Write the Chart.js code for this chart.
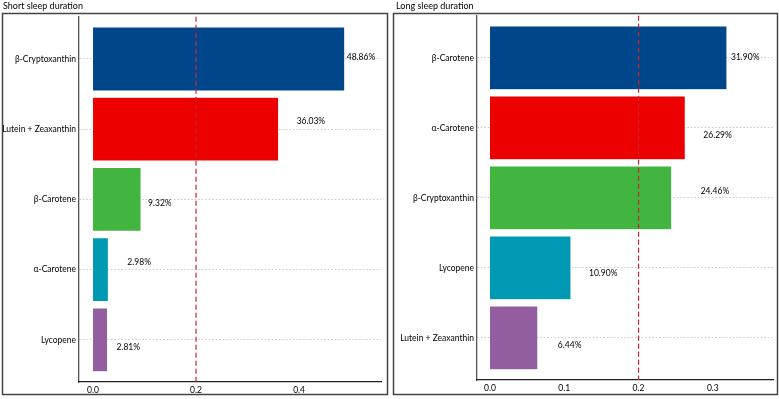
<!DOCTYPE html>
<html>
<head>
<meta charset="utf-8">
<script src="https://cdn.jsdelivr.net/npm/chart.js@4.4.1/dist/chart.umd.min.js"></script>
<style>
    body { margin: 0; background: #fff; }
    canvas { position: absolute; top: 0; }
</style>
</head>
<body>
<canvas id="shortChart" width="390" height="399" style="left:0px"></canvas>
<canvas id="longChart" width="389" height="399" style="left:390px"></canvas>
<script>
const shortCats = ['β-Cryptoxanthin', 'Lutein + Zeaxanthin', 'β-Carotene', 'α-Carotene', 'Lycopene'];
const shortVals = [0.4886, 0.3603, 0.0932, 0.0298, 0.0281];
const longCats = ['β-Carotene', 'α-Carotene', 'β-Cryptoxanthin', 'Lycopene', 'Lutein + Zeaxanthin'];
const longVals = [0.3190, 0.2629, 0.2446, 0.1090, 0.0644];
const shortTicks = [0, 0.2, 0.4];
const longTicks = [0, 0.1, 0.2, 0.3];
const refLine = 0.2;

const barColors = ['#00468B', '#ED0000', '#42B540', '#0099B4', '#925E9F'];
// small pixel nudges for the % labels (dx, dy), the original has them repelled
const shortLabelShift = [[2, -2], [18, -8], [7, 4], [19, -7], [9, 7]];
const longLabelShift = [[4, -1], [18, 7], [29, -7], [18, 5], [20, 7]];

const FONT = "Lato, sans-serif";

const panelPlugin = {
    id: 'panel',
    beforeDraw(chart, args, opts) {
        const ctx = chart.ctx;
        ctx.save();
        ctx.strokeStyle = '#444';
        ctx.lineWidth = 1.5;
        ctx.strokeRect(opts.frame[0], opts.frame[1], opts.frame[2], opts.frame[3]);
        ctx.restore();
    },
    afterDatasetsDraw(chart, args, opts) {
        const ctx = chart.ctx;
        const area = chart.chartArea;
        const xs = chart.scales.x;
        // reference line
        const rx = xs.getPixelForValue(refLine);
        ctx.save();
        ctx.strokeStyle = '#C8252B';
        ctx.lineWidth = 1.2;
        ctx.setLineDash([5, 3]);
        ctx.beginPath();
        ctx.moveTo(rx, area.top);
        ctx.lineTo(rx, area.bottom);
        ctx.stroke();
        ctx.restore();

        // value labels
        const meta = chart.getDatasetMeta(0);
        const vals = chart.data.datasets[0].data;
        ctx.save();
        ctx.fillStyle = '#000';
        ctx.font = '8.5px ' + FONT;
        ctx.textAlign = 'left';
        ctx.textBaseline = 'middle';
        meta.data.forEach((bar, i) => {
            const s = opts.shift[i];
            ctx.fillText((vals[i].x * 100).toFixed(2) + '%', bar.x + s[0], bar.y + s[1]);
        });
        ctx.restore();
    }
};

function createPanel(id, cfg) {
    const ctx = document.getElementById(id).getContext('2d');
    new Chart(ctx, {
        type: 'bar',
        data: {
            datasets: [{
                data: cfg.vals.map((v, i) => ({ x: v, y: i })),
                backgroundColor: barColors,
                borderColor: 'rgba(255,255,255,0.6)',
                borderWidth: 0.5,
                barPercentage: 0.91,
                categoryPercentage: 1
            }]
        },
        options: {
            indexAxis: 'y',
            responsive: false,
            animation: false,
            layout: {
                padding: { left: cfg.padLeft, right: cfg.padRight, top: 0, bottom: 0 }
            },
            scales: {
                y: {
                    type: 'linear',
                    reverse: true,
                    offset: false,
                    min: -0.6,
                    max: 4.6,
                    afterBuildTicks: (scale) => {
                        scale.ticks = cfg.cats.map((c, i) => ({ value: i }));
                    },
                    afterFit: (scale) => { scale.width = cfg.yWidth; },
                    ticks: {
                        callback: (v) => cfg.cats[v],
                        color: '#000',
                        padding: 3,
                        font: { size: 8.5, family: FONT }
                    },
                    grid: {
                        offset: false,
                        color: '#c8c8c8',
                        drawTicks: false
                    },
                    border: {
                        display: true,
                        color: '#555',
                        width: 1.3,
                        dash: [1.5, 2]
                    }
                },
                x: {
                    type: 'linear',
                    min: cfg.xMin,
                    max: cfg.xMax,
                    afterBuildTicks: (scale) => {
                        scale.ticks = cfg.ticks.map(v => ({ value: v }));
                    },
                    afterFit: (scale) => { scale.height = cfg.xHeight; },
                    ticks: {
                        callback: (v) => v.toFixed(1),
                        color: '#000',
                        padding: 3,
                        maxRotation: 0,
                        font: { size: 8.5, family: FONT }
                    },
                    grid: {
                        display: false,
                        drawTicks: false
                    },
                    border: {
                        display: true,
                        color: '#222',
                        width: 1.3
                    }
                }
            },
            plugins: {
                legend: { display: false },
                tooltip: { enabled: false },
                title: {
                    display: true,
                    text: cfg.title,
                    align: 'start',
                    color: '#000',
                    font: { size: 9, family: FONT, weight: 'normal' },
                    padding: { top: 1, bottom: cfg.titleGap }
                },
                panel: {
                    frame: cfg.frame,
                    shift: cfg.shift
                }
            }
        },
        plugins: [panelPlugin]
    });
}

createPanel('shortChart', {
    title: 'Short sleep duration',
    cats: shortCats,
    vals: shortVals,
    ticks: shortTicks,
    shift: shortLabelShift,
    xMin: -0.0272,
    xMax: 0.559,
    padLeft: 3,
    padRight: 9,
    yWidth: 76,
    xHeight: 17,
    titleGap: 5,
    frame: [2.5, 13.5, 385, 381]
});

createPanel('longChart', {
    title: 'Long sleep duration',
    cats: longCats,
    vals: longVals,
    ticks: longTicks,
    shift: longLabelShift,
    xMin: -0.0175,
    xMax: 0.381,
    padLeft: 6,
    padRight: 6,
    yWidth: 81,
    xHeight: 19,
    titleGap: 4,
    frame: [3.5, 13.5, 384, 381]
});
</script>
</body>
</html>
